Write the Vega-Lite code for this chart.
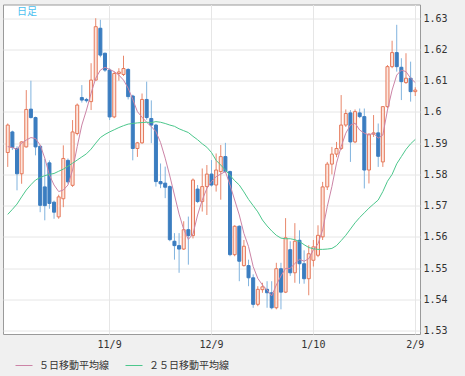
{
  "$schema": "https://vega.github.io/schema/vega-lite/v6.json",
  "autosize": {"type": "none"},
  "width": 417,
  "height": 329.5,
  "padding": {"left": 3, "top": 4.5, "right": 45, "bottom": 42},
  "background": "#f0f0f0",
  "title": {"text": "日足", "anchor": "start", "dx": 14, "offset": -12.5, "fontSize": 10, "font": "Noto Sans CJK JP", "fontWeight": "normal", "color": "#4cc0f0"},
  "config": {"view": {"fill": "#ffffff", "stroke": "#9a9a9a", "strokeWidth": 1}, "axis": {"labelOverlap": false}},
  "data": {"values": [
    {"d":"10/8","o":1.5870,"h":1.5963,"l":1.5824,"c":1.5958,"m5":1.5889,"m25":1.5672},
    {"d":"10/11","o":1.5936,"h":1.5940,"l":1.5878,"c":1.5886,"m5":1.5886,"m25":1.5688},
    {"d":"10/12","o":1.5883,"h":1.5890,"l":1.5749,"c":1.5802,"m5":1.5880,"m25":1.5705},
    {"d":"10/13","o":1.5802,"h":1.5906,"l":1.5770,"c":1.5904,"m5":1.5900,"m25":1.5728},
    {"d":"10/14","o":1.5888,"h":1.6070,"l":1.5886,"c":1.6008,"m5":1.5910,"m25":1.5750},
    {"d":"10/15","o":1.6009,"h":1.6100,"l":1.5979,"c":1.5982,"m5":1.5918,"m25":1.5767},
    {"d":"10/18","o":1.5982,"h":1.5985,"l":1.5861,"c":1.5888,"m5":1.5915,"m25":1.5782},
    {"d":"10/19","o":1.5890,"h":1.5893,"l":1.5679,"c":1.5701,"m5":1.5894,"m25":1.5790},
    {"d":"10/20","o":1.5760,"h":1.5850,"l":1.5653,"c":1.5700,"m5":1.5852,"m25":1.5796},
    {"d":"10/21","o":1.5837,"h":1.5845,"l":1.5690,"c":1.5707,"m5":1.5798,"m25":1.5800},
    {"d":"10/22","o":1.5711,"h":1.5716,"l":1.5658,"c":1.5679,"m5":1.5766,"m25":1.5803},
    {"d":"10/25","o":1.5664,"h":1.5735,"l":1.5658,"c":1.5728,"m5":1.5745,"m25":1.5810},
    {"d":"10/26","o":1.5722,"h":1.5893,"l":1.5695,"c":1.5851,"m5":1.5750,"m25":1.5817},
    {"d":"10/27","o":1.5845,"h":1.5851,"l":1.5770,"c":1.5776,"m5":1.5766,"m25":1.5826},
    {"d":"10/28","o":1.5765,"h":1.5974,"l":1.5760,"c":1.5936,"m5":1.5814,"m25":1.5836},
    {"d":"10/29","o":1.5931,"h":1.6027,"l":1.5925,"c":1.6022,"m5":1.5889,"m25":1.5846},
    {"d":"11/1","o":1.6046,"h":1.6086,"l":1.6030,"c":1.6038,"m5":1.5958,"m25":1.5856},
    {"d":"11/2","o":1.6040,"h":1.6045,"l":1.6030,"c":1.6036,"m5":1.6006,"m25":1.5866},
    {"d":"11/3","o":1.6033,"h":1.6156,"l":1.6006,"c":1.6102,"m5":1.6060,"m25":1.5881},
    {"d":"11/4","o":1.6102,"h":1.6300,"l":1.6100,"c":1.6273,"m5":1.6108,"m25":1.5900},
    {"d":"11/5","o":1.6268,"h":1.6295,"l":1.6175,"c":1.6182,"m5":1.6134,"m25":1.5918},
    {"d":"11/8","o":1.6188,"h":1.6190,"l":1.6128,"c":1.6134,"m5":1.6143,"m25":1.5928},
    {"d":"11/9","o":1.6134,"h":1.6140,"l":1.5974,"c":1.5984,"m5":1.6136,"m25":1.5936},
    {"d":"11/10","o":1.5984,"h":1.6129,"l":1.5980,"c":1.6123,"m5":1.6129,"m25":1.5943},
    {"d":"11/11","o":1.6123,"h":1.6140,"l":1.6100,"c":1.6128,"m5":1.6118,"m25":1.5950},
    {"d":"11/12","o":1.6120,"h":1.6180,"l":1.6115,"c":1.6139,"m5":1.6102,"m25":1.5956},
    {"d":"11/15","o":1.6136,"h":1.6140,"l":1.6040,"c":1.6049,"m5":1.6076,"m25":1.5961},
    {"d":"11/16","o":1.6051,"h":1.6055,"l":1.5845,"c":1.5883,"m5":1.6040,"m25":1.5963},
    {"d":"11/17","o":1.5883,"h":1.5904,"l":1.5856,"c":1.5901,"m5":1.6001,"m25":1.5965},
    {"d":"11/18","o":1.5901,"h":1.6059,"l":1.5898,"c":1.6040,"m5":1.5983,"m25":1.5966},
    {"d":"11/19","o":1.6040,"h":1.6097,"l":1.5975,"c":1.5982,"m5":1.5967,"m25":1.5967},
    {"d":"11/22","o":1.5979,"h":1.6037,"l":1.5900,"c":1.5958,"m5":1.5953,"m25":1.5966},
    {"d":"11/23","o":1.5958,"h":1.5962,"l":1.5761,"c":1.5777,"m5":1.5937,"m25":1.5969},
    {"d":"11/24","o":1.5777,"h":1.5835,"l":1.5756,"c":1.5770,"m5":1.5902,"m25":1.5967},
    {"d":"11/25","o":1.5772,"h":1.5825,"l":1.5724,"c":1.5759,"m5":1.5852,"m25":1.5963},
    {"d":"11/26","o":1.5761,"h":1.5765,"l":1.5586,"c":1.5591,"m5":1.5795,"m25":1.5958},
    {"d":"11/29","o":1.5586,"h":1.5612,"l":1.5527,"c":1.5572,"m5":1.5734,"m25":1.5954},
    {"d":"11/30","o":1.5572,"h":1.5612,"l":1.5485,"c":1.5561,"m5":1.5673,"m25":1.5946},
    {"d":"12/1","o":1.5561,"h":1.5650,"l":1.5558,"c":1.5623,"m5":1.5624,"m25":1.5940},
    {"d":"12/2","o":1.5623,"h":1.5665,"l":1.5511,"c":1.5604,"m5":1.5592,"m25":1.5934},
    {"d":"12/3","o":1.5604,"h":1.5787,"l":1.5595,"c":1.5782,"m5":1.5609,"m25":1.5922},
    {"d":"12/6","o":1.5753,"h":1.5766,"l":1.5708,"c":1.5713,"m5":1.5670,"m25":1.5911},
    {"d":"12/7","o":1.5713,"h":1.5819,"l":1.5681,"c":1.5761,"m5":1.5718,"m25":1.5898},
    {"d":"12/8","o":1.5761,"h":1.5830,"l":1.5670,"c":1.5801,"m5":1.5755,"m25":1.5887},
    {"d":"12/9","o":1.5801,"h":1.5846,"l":1.5761,"c":1.5766,"m5":1.5777,"m25":1.5870},
    {"d":"12/10","o":1.5766,"h":1.5867,"l":1.5745,"c":1.5814,"m5":1.5793,"m25":1.5845},
    {"d":"12/13","o":1.5809,"h":1.5894,"l":1.5719,"c":1.5857,"m5":1.5801,"m25":1.5830},
    {"d":"12/14","o":1.5857,"h":1.5901,"l":1.5805,"c":1.5809,"m5":1.5809,"m25":1.5814},
    {"d":"12/15","o":1.5809,"h":1.5812,"l":1.5538,"c":1.5543,"m5":1.5766,"m25":1.5797},
    {"d":"12/16","o":1.5543,"h":1.5637,"l":1.5538,"c":1.5634,"m5":1.5718,"m25":1.5780},
    {"d":"12/17","o":1.5634,"h":1.5637,"l":1.5458,"c":1.5522,"m5":1.5670,"m25":1.5766},
    {"d":"12/20","o":1.5508,"h":1.5590,"l":1.5505,"c":1.5570,"m5":1.5611,"m25":1.5744},
    {"d":"12/21","o":1.5508,"h":1.5527,"l":1.5442,"c":1.5469,"m5":1.5569,"m25":1.5720},
    {"d":"12/22","o":1.5469,"h":1.5480,"l":1.5373,"c":1.5384,"m5":1.5505,"m25":1.5700},
    {"d":"12/23","o":1.5384,"h":1.5442,"l":1.5378,"c":1.5432,"m5":1.5467,"m25":1.5680},
    {"d":"12/24","o":1.5431,"h":1.5453,"l":1.5421,"c":1.5440,"m5":1.5446,"m25":1.5654},
    {"d":"12/27","o":1.5432,"h":1.5458,"l":1.5373,"c":1.5421,"m5":1.5430,"m25":1.5635},
    {"d":"12/28","o":1.5421,"h":1.5458,"l":1.5368,"c":1.5373,"m5":1.5411,"m25":1.5619},
    {"d":"12/29","o":1.5373,"h":1.5517,"l":1.5368,"c":1.5498,"m5":1.5446,"m25":1.5605},
    {"d":"12/30","o":1.5498,"h":1.5517,"l":1.5368,"c":1.5423,"m5":1.5475,"m25":1.5596},
    {"d":"12/31","o":1.5423,"h":1.5660,"l":1.5420,"c":1.5597,"m5":1.5499,"m25":1.5594},
    {"d":"1/3","o":1.5559,"h":1.5586,"l":1.5475,"c":1.5485,"m5":1.5499,"m25":1.5594},
    {"d":"1/4","o":1.5485,"h":1.5644,"l":1.5453,"c":1.5586,"m5":1.5515,"m25":1.5591},
    {"d":"1/5","o":1.5589,"h":1.5621,"l":1.5450,"c":1.5514,"m5":1.5528,"m25":1.5585},
    {"d":"1/6","o":1.5514,"h":1.5557,"l":1.5450,"c":1.5466,"m5":1.5522,"m25":1.5575},
    {"d":"1/7","o":1.5466,"h":1.5573,"l":1.5413,"c":1.5546,"m5":1.5530,"m25":1.5566},
    {"d":"1/10","o":1.5525,"h":1.5590,"l":1.5505,"c":1.5568,"m5":1.5558,"m25":1.5562},
    {"d":"1/11","o":1.5541,"h":1.5637,"l":1.5535,"c":1.5605,"m5":1.5578,"m25":1.5560},
    {"d":"1/12","o":1.5600,"h":1.5776,"l":1.5590,"c":1.5760,"m5":1.5622,"m25":1.5560},
    {"d":"1/13","o":1.5760,"h":1.5840,"l":1.5750,"c":1.5833,"m5":1.5697,"m25":1.5561},
    {"d":"1/14","o":1.5833,"h":1.5888,"l":1.5800,"c":1.5865,"m5":1.5761,"m25":1.5563},
    {"d":"1/17","o":1.5865,"h":1.5904,"l":1.5855,"c":1.5883,"m5":1.5836,"m25":1.5572},
    {"d":"1/18","o":1.5883,"h":1.6054,"l":1.5878,"c":1.5958,"m5":1.5889,"m25":1.5588},
    {"d":"1/19","o":1.5958,"h":1.6008,"l":1.5952,"c":1.5995,"m5":1.5932,"m25":1.5605},
    {"d":"1/20","o":1.5997,"h":1.6006,"l":1.5840,"c":1.5904,"m5":1.5958,"m25":1.5625},
    {"d":"1/21","o":1.5904,"h":1.6008,"l":1.5900,"c":1.6001,"m5":1.5964,"m25":1.5645},
    {"d":"1/24","o":1.5997,"h":1.6011,"l":1.5980,"c":1.5985,"m5":1.5942,"m25":1.5662},
    {"d":"1/25","o":1.5985,"h":1.6011,"l":1.5755,"c":1.5814,"m5":1.5932,"m25":1.5677},
    {"d":"1/26","o":1.5814,"h":1.5931,"l":1.5771,"c":1.5929,"m5":1.5926,"m25":1.5692},
    {"d":"1/27","o":1.5929,"h":1.5990,"l":1.5920,"c":1.5933,"m5":1.5932,"m25":1.5705},
    {"d":"1/28","o":1.5933,"h":1.5963,"l":1.5824,"c":1.5858,"m5":1.5916,"m25":1.5718},
    {"d":"1/31","o":1.5840,"h":1.6017,"l":1.5824,"c":1.6017,"m5":1.5926,"m25":1.5745},
    {"d":"2/1","o":1.6017,"h":1.6150,"l":1.6012,"c":1.6145,"m5":1.6006,"m25":1.5778},
    {"d":"2/2","o":1.6145,"h":1.6228,"l":1.6140,"c":1.6190,"m5":1.6070,"m25":1.5800},
    {"d":"2/3","o":1.6190,"h":1.6279,"l":1.6129,"c":1.6145,"m5":1.6118,"m25":1.5834},
    {"d":"2/4","o":1.6143,"h":1.6172,"l":1.6038,"c":1.6097,"m5":1.6134,"m25":1.5857},
    {"d":"2/7","o":1.6094,"h":1.6188,"l":1.6090,"c":1.6108,"m5":1.6129,"m25":1.5880},
    {"d":"2/8","o":1.6108,"h":1.6161,"l":1.6033,"c":1.6065,"m5":1.6108,"m25":1.5898},
    {"d":"2/9","o":1.6065,"h":1.6079,"l":1.6051,"c":1.6070,"m5":1.6094,"m25":1.5912}
  ]},
  "encoding": {
    "x": {"field": "d", "type": "ordinal", "sort": null,
      "scale": {"paddingInner": 0.35, "paddingOuter": 0.7},
      "axis": {"values": ["11/9", "12/9", "1/10", "2/9"], "title": null, "grid": true, "gridColor": "#e6e6e6", "ticks": false, "domain": false, "labelAngle": 0, "labelPadding": 5, "labelOverlap": false, "labelFont": "DejaVu Sans Mono", "labelFontSize": 10, "labelColor": "#333333", "bandPosition": 0.5}}
  },
  "layer": [
    {
      "mark": {"type": "rule", "strokeWidth": 1},
      "encoding": {
        "y": {"field": "l", "type": "quantitative",
          "scale": {"domain": [1.5289, 1.6344], "nice": false, "zero": false},
          "axis": {"orient": "right", "values": [1.53, 1.54, 1.55, 1.56, 1.57, 1.58, 1.59, 1.6, 1.61, 1.62, 1.63], "tickCount": 11, "format": ".2~f", "title": null, "grid": true, "gridColor": "#e6e6e6", "ticks": false, "domain": false, "labelPadding": 3, "labelOverlap": false, "labelFont": "DejaVu Sans Mono", "labelFontSize": 10, "labelColor": "#333333"}},
        "y2": {"field": "h"},
        "stroke": {"condition": {"test": "datum.c >= datum.o", "value": "#e8876b"}, "value": "#80b3de"}
      }
    },
    {
      "mark": {"type": "bar", "strokeWidth": 1},
      "encoding": {
        "y": {"field": "o", "type": "quantitative"},
        "y2": {"field": "c"},
        "fill": {"condition": {"test": "datum.c >= datum.o", "value": "#fde6dd"}, "value": "#3b7dc0"},
        "stroke": {"condition": {"test": "datum.c >= datum.o", "value": "#e5785a"}, "value": "#3b7dc0"}
      }
    },
    {
      "transform": [{"fold": ["m5", "m25"], "as": ["s", "v"]}],
      "mark": {"type": "line", "strokeWidth": 1},
      "encoding": {
        "y": {"field": "v", "type": "quantitative"},
        "color": {"field": "s", "type": "nominal",
          "scale": {"domain": ["m5", "m25"], "range": ["#cc84a6", "#4cc78c"]},
          "legend": {"orient": "none", "legendX": 12, "legendY": 352, "direction": "horizontal", "title": null, "symbolType": "stroke", "symbolSize": 289, "symbolStrokeWidth": 1, "labelFont": "Noto Sans CJK JP", "labelFontSize": 10, "labelColor": "#333333", "labelOffset": 6, "columnPadding": 14, "labelExpr": "datum.label == 'm5' ? '５日移動平均線' : '２５日移動平均線'"}}
      }
    }
  ]
}
